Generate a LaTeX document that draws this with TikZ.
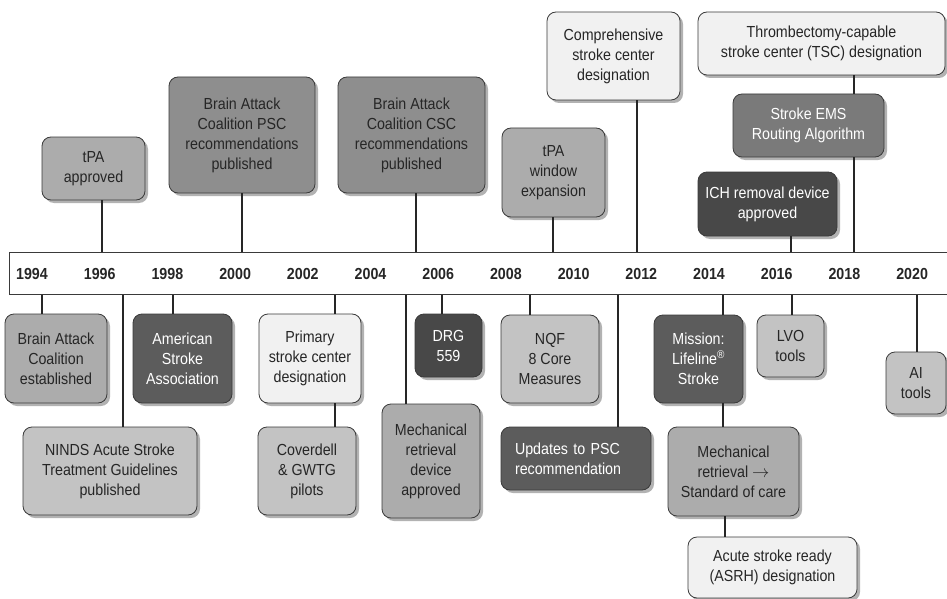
\documentclass[tikz,border=0pt]{standalone}
\usepackage{fontspec}
\setmainfont{Liberation Sans}[FakeStretch=0.89]
\usetikzlibrary{shadows}

\definecolor{ink}{HTML}{262626}
\definecolor{edge}{HTML}{3A3A3A}
\definecolor{pale}{HTML}{F1F1F1}
\definecolor{silver}{HTML}{C3C3C3}
\definecolor{ash}{HTML}{ACACAC}
\definecolor{slate}{HTML}{8E8E8E}
\definecolor{smoke}{HTML}{7A7A7A}
\definecolor{iron}{HTML}{5C5C5C}
\definecolor{coal}{HTML}{484848}

\begin{document}
\begin{tikzpicture}[x=1pt,y=-1pt,
    every node/.style={font=\fontsize{16}{20}\selectfont},
    box/.style={draw=edge, line width=0.8pt, rounded corners=9pt, fill=#1, text=ink,
        align=center, inner sep=0pt,
        drop shadow={shadow xshift=3pt, shadow yshift=-3pt, opacity=0.3, fill=black}},
    inv/.style={text=white},
    year/.style={font=\fontsize{16}{18}\bfseries\selectfont, text=ink},
    link/.style={line width=2.2pt, draw=ink}]
    \useasboundingbox (0,0) rectangle (947,599);
    \node[draw=edge, fill=white, line width=1pt, minimum width=940, minimum height=42, inner sep=0pt] (bar) at (479,273) {};
    \foreach[count=\i from 0] \y in {1994,1996,...,2020} {
        \node[year] at ({32+67.7*\i},274) {\y};
    }
    % above the line
    \node[box=ash, minimum width=103, minimum height=63] (tpa) at (93.5,168.5) {tPA\\approved};
    \node[box=slate, minimum width=146, minimum height=116] (psc) at (242,135) {Brain Attack\\Coalition PSC\\recommendations\\published};
    \node[box=slate, minimum width=147, minimum height=116] (csc) at (411.5,135) {Brain Attack\\Coalition CSC\\recommendations\\published};
    \node[box=ash, minimum width=103, minimum height=89] (tpawin) at (553.5,172.5) {tPA\\window\\expansion};
    \node[box=pale, minimum width=133, minimum height=88] (comp) at (613.5,56) {Comprehensive\\stroke center\\designation};
    \node[box=pale, minimum width=247, minimum height=63] (tsc) at (821.5,43.5) {Thrombectomy-capable\\stroke center (TSC) designation};
    \node[box=smoke, inv, minimum width=151, minimum height=63] (ems) at (808.5,125.5) {Stroke EMS\\Routing Algorithm};
    \node[box=coal, inv, minimum width=139, minimum height=64] (ich) at (767.5,204) {ICH removal device\\approved};
    % below the line
    \node[box=ash, minimum width=102, minimum height=89] (bace) at (56,358.5) {Brain Attack\\Coalition\\established};
    \node[box=iron, inv, minimum width=99, minimum height=89] (asa) at (182.5,358.5) {American\\Stroke\\Association};
    \node[box=silver, minimum width=174, minimum height=88] (ninds) at (110,471) {NINDS Acute Stroke\\Treatment Guidelines\\published};
    \node[box=pale, minimum width=102, minimum height=89] (primary) at (310,358.5) {Primary\\stroke center\\designation};
    \node[box=silver, minimum width=98, minimum height=88] (coverdell) at (307,471) {Coverdell\\\& GWTG\\pilots};
    \node[box=coal, inv, minimum width=67, minimum height=63] (drg) at (448.5,345.5) {DRG\\559};
    \node[box=ash, minimum width=98, minimum height=114] (mechdev) at (431,461) {Mechanical\\retrieval\\device\\approved};
    \node[box=silver, minimum width=98, minimum height=88] (nqf) at (550,359) {NQF\\8 Core\\Measures};
    \node[box=iron, inv, align=left, text width=122, inner xsep=14pt, minimum height=63] (updates) at (576,458.5) {Updates to PSC\\recommendation};
    \node[box=iron, inv, minimum width=89, minimum height=88] (mission) at (698.5,359) {Mission:\\Lifeline\textsuperscript{®}\\Stroke};
    \node[box=ash, minimum width=131, minimum height=89] (stdcare) at (733.5,471.5) {Mechanical\\retrieval $\rightarrow$\\Standard of care};
    \node[box=pale, minimum width=169, minimum height=61] (asrh) at (772.5,567.5) {Acute stroke ready\\(ASRH) designation};
    \node[box=silver, minimum width=67, minimum height=62] (lvo) at (790.5,346) {LVO\\tools};
    \node[box=silver, minimum width=60, minimum height=62] (ai) at (916,383) {AI\\tools};
    % connectors
    \foreach \n/\x in {tpa/102, psc/242, csc/416, tpawin/553, comp/637, ems/854, ich/791} {
        \draw[link] (\n.south -| \x,0) -- (bar.north -| \x,0);
    }
    \foreach \n/\x in {bace/42, asa/173, ninds/123, primary/335, drg/442, mechdev/406, nqf/530, updates/618, mission/723, lvo/792, ai/917} {
        \draw[link] (bar.south -| \x,0) -- (\n.north -| \x,0);
    }
    \foreach \a/\b/\x in {tsc/ems/854, primary/coverdell/335, mission/stdcare/723, stdcare/asrh/725} {
        \draw[link] (\a.south -| \x,0) -- (\b.north -| \x,0);
    }
\end{tikzpicture}
\end{document}
